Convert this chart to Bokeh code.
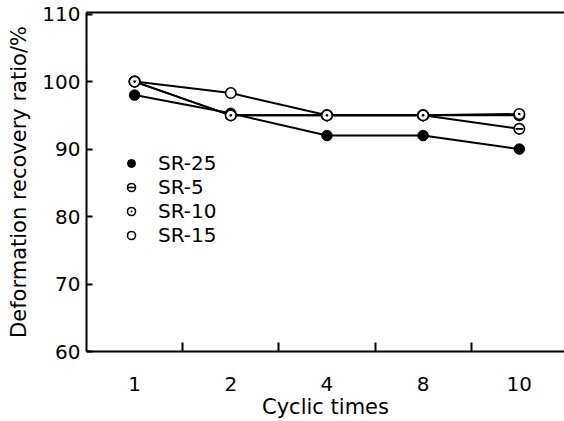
from bokeh.plotting import figure
from bokeh.models import Range1d, FixedTicker, LinearAxis, Legend, LegendItem
from bokeh.embed import file_html
from bokeh.resources import INLINE

# ---- data ----
cycles = ["1", "2", "4", "8", "10"]
sr25 = [98, 95.3, 92, 92, 90]
sr5 = [100, 95, 95, 95, 93]
sr10 = [100, 95, 95, 95, 95.2]
sr15 = [100, 98.3, 95, 95, 95]
y_ticks = [60, 70, 80, 90, 100, 110]

FONT = "DejaVu Sans"
xs = list(range(1, len(cycles) + 1))

p = figure(width=564, height=421, output_backend="svg", toolbar_location=None,
           x_range=Range1d(0.5, 5.47), y_range=Range1d(60, 110.24),
           min_border_left=86, min_border_right=0, min_border_top=12,
           min_border_bottom=70)
p.outline_line_color = None
p.xgrid.visible = False
p.ygrid.visible = False
p.background_fill_color = "white"
p.border_fill_color = "white"

# x axis: labels at category centres, ticks at boundaries (minor ticks)
xa = p.xaxis[0]
xa.ticker = FixedTicker(ticks=xs, minor_ticks=[x + 0.5 for x in xs[:-1]])
xa.major_label_overrides = {x: c for x, c in zip(xs, cycles)}
xa.major_tick_in = 0
xa.major_tick_out = 0
xa.minor_tick_in = 9
xa.minor_tick_out = 0
xa.minor_tick_line_width = 2
xa.minor_tick_line_color = "black"
xa.axis_line_width = 2
xa.axis_line_color = "black"
xa.major_label_standoff = 25
xa.major_label_text_font = FONT
xa.major_label_text_font_size = "20px"
xa.major_label_text_color = "black"
xa.axis_label = "Cyclic times"
xa.axis_label_text_font = FONT
xa.axis_label_text_font_size = "21px"
xa.axis_label_text_font_style = "normal"
xa.axis_label_text_color = "black"
xa.axis_label_standoff = 1

ya = p.yaxis[0]
ya.ticker = FixedTicker(ticks=y_ticks)
ya.major_tick_in = 6
ya.major_tick_out = 0
ya.major_tick_line_width = 2
ya.minor_tick_in = 0
ya.minor_tick_out = 0
ya.axis_line_width = 2
ya.axis_line_color = "black"
ya.major_label_standoff = 6
ya.major_label_text_font = FONT
ya.major_label_text_font_size = "20px"
ya.major_label_text_color = "black"
ya.axis_label = "Deformation recovery ratio/%"
ya.axis_label_text_font = FONT
ya.axis_label_text_font_size = "21px"
ya.axis_label_text_font_style = "normal"
ya.axis_label_text_color = "black"
ya.axis_label_standoff = 8

# top spine
top = LinearAxis(ticker=FixedTicker(ticks=[]), axis_line_width=2, axis_line_color="black",
                 major_tick_in=0, major_tick_out=0, minor_tick_in=0, minor_tick_out=0,
                 major_label_text_font_size="0px", major_label_standoff=0)
p.add_layout(top, "above")

LW = 2
MS = 10.5
for ys in (sr25, sr15, sr5, sr10):
    p.line(xs, ys, line_color="black", line_width=LW)

m25 = p.scatter(xs, sr25, marker="circle", size=MS, fill_color="black", line_color="black")
m15 = p.scatter(xs, sr15, marker="circle", size=MS, fill_color="white", line_color="black", line_width=1.6)
m5a = p.scatter(xs, sr5, marker="circle", size=MS, fill_color="white", line_color="black", line_width=1.6)
m5b = p.scatter(xs, sr5, marker="dash", size=MS - 3, line_color="black", line_width=1.6)
m10 = p.scatter(xs, sr10, marker="circle_dot", size=MS, fill_color="white", line_color="black", line_width=1.6)

legend = Legend(items=[
    LegendItem(label="SR-25", renderers=[m25]),
    LegendItem(label="SR-5", renderers=[m5a, m5b]),
    LegendItem(label="SR-10", renderers=[m10]),
    LegendItem(label="SR-15", renderers=[m15]),
], location=(35, 104), glyph_width=20, glyph_height=24, label_height=24,
    spacing=0, padding=0, margin=0, border_line_color=None,
    background_fill_alpha=0, label_standoff=17,
    label_text_font=FONT, label_text_font_size="20px", label_text_color="black")
p.add_layout(legend)

open("out.html", "w").write(file_html(p, INLINE))
